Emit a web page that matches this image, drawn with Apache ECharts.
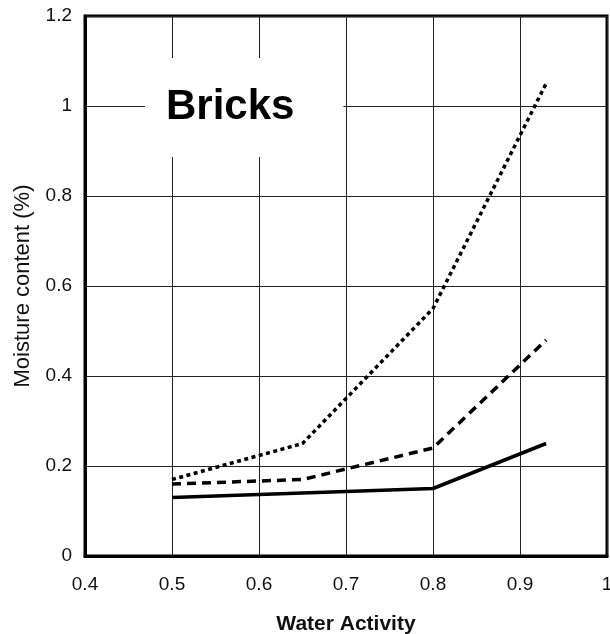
<!DOCTYPE html>
<html>
<head>
<meta charset="utf-8">
<script src="https://cdn.jsdelivr.net/npm/echarts@6/dist/echarts.min.js"></script>
<style>
html,body{margin:0;padding:0;background:#fff;}
#chart{width:610px;height:634px;}
</style>
</head>
<body>
<div id="chart"></div>
<script>
const waterActivity = [0.5, 0.65, 0.8, 0.93];
const dottedSeries = [0.17, 0.25, 0.55, 1.05];
const dashedSeries = [0.16, 0.17, 0.24, 0.48];
const solidSeries = [0.13, 0.14, 0.15, 0.25];
const xTicks = [0.4, 0.5, 0.6, 0.7, 0.8, 0.9, 1];
const yTicks = [0, 0.2, 0.4, 0.6, 0.8, 1, 1.2];
const chartTitle = 'Bricks';
const xTitle = 'Water Activity';
const yTitle = 'Moisture content (%)';

const FONT = 'Arial, "Liberation Sans", sans-serif';
function pairs(ys){ return waterActivity.map((x,i)=>[x, ys[i]]); }

const chart = echarts.init(document.getElementById('chart'), null, {renderer:'canvas'});
chart.setOption({
  backgroundColor:'#fff',
  animation:false,
  title:{
    text: chartTitle,
    left:145, top:58,
    backgroundColor:'#fff',
    padding:[28,49,29,21],
    textStyle:{fontFamily:FONT, fontSize:42, fontWeight:'bold', color:'#000', lineHeight:42}
  },
  grid:{left:85, right:3, top:16, bottom:78, containLabel:false, outerBoundsMode:'none',
        show:true, borderWidth:3, borderColor:'#000', backgroundColor:'transparent'},
  xAxis:{
    type:'value', min:xTicks[0], max:xTicks[xTicks.length-1], interval:0.1,
    name:xTitle, nameLocation:'middle', nameGap:58, nameMoveOverlap:false,
    nameTextStyle:{fontFamily:FONT, fontSize:21, fontWeight:'bold', color:'#111'},
    axisLine:{show:true, lineStyle:{color:'#000', width:3}},
    axisTick:{show:false},
    axisLabel:{fontFamily:FONT, fontSize:19, color:'#111', margin:19},
    splitLine:{show:true, lineStyle:{color:'#222', width:1}}
  },
  yAxis:{
    type:'value', min:yTicks[0], max:yTicks[yTicks.length-1], interval:0.2,
    name:yTitle, nameLocation:'middle', nameGap:51, nameRotate:90, nameMoveOverlap:false,
    nameTextStyle:{fontFamily:FONT, fontSize:22, color:'#111'},
    axisLine:{show:true, lineStyle:{color:'#000', width:3}},
    axisTick:{show:false},
    axisLabel:{fontFamily:FONT, fontSize:19, color:'#111', margin:13},
    splitLine:{show:true, lineStyle:{color:'#222', width:1}}
  },
  series:[
    {type:'line', data:pairs(dottedSeries), showSymbol:false, symbol:'none',
     lineStyle:{color:'#000', width:3.5, type:[4,3.5]}, z:3},
    {type:'line', data:pairs(dashedSeries), showSymbol:false, symbol:'none',
     lineStyle:{color:'#000', width:3.5, type:[9,6]}, z:3},
    {type:'line', data:pairs(solidSeries), showSymbol:false, symbol:'none',
     lineStyle:{color:'#000', width:3.5}, z:3}
  ]
});
</script>
</body>
</html>
